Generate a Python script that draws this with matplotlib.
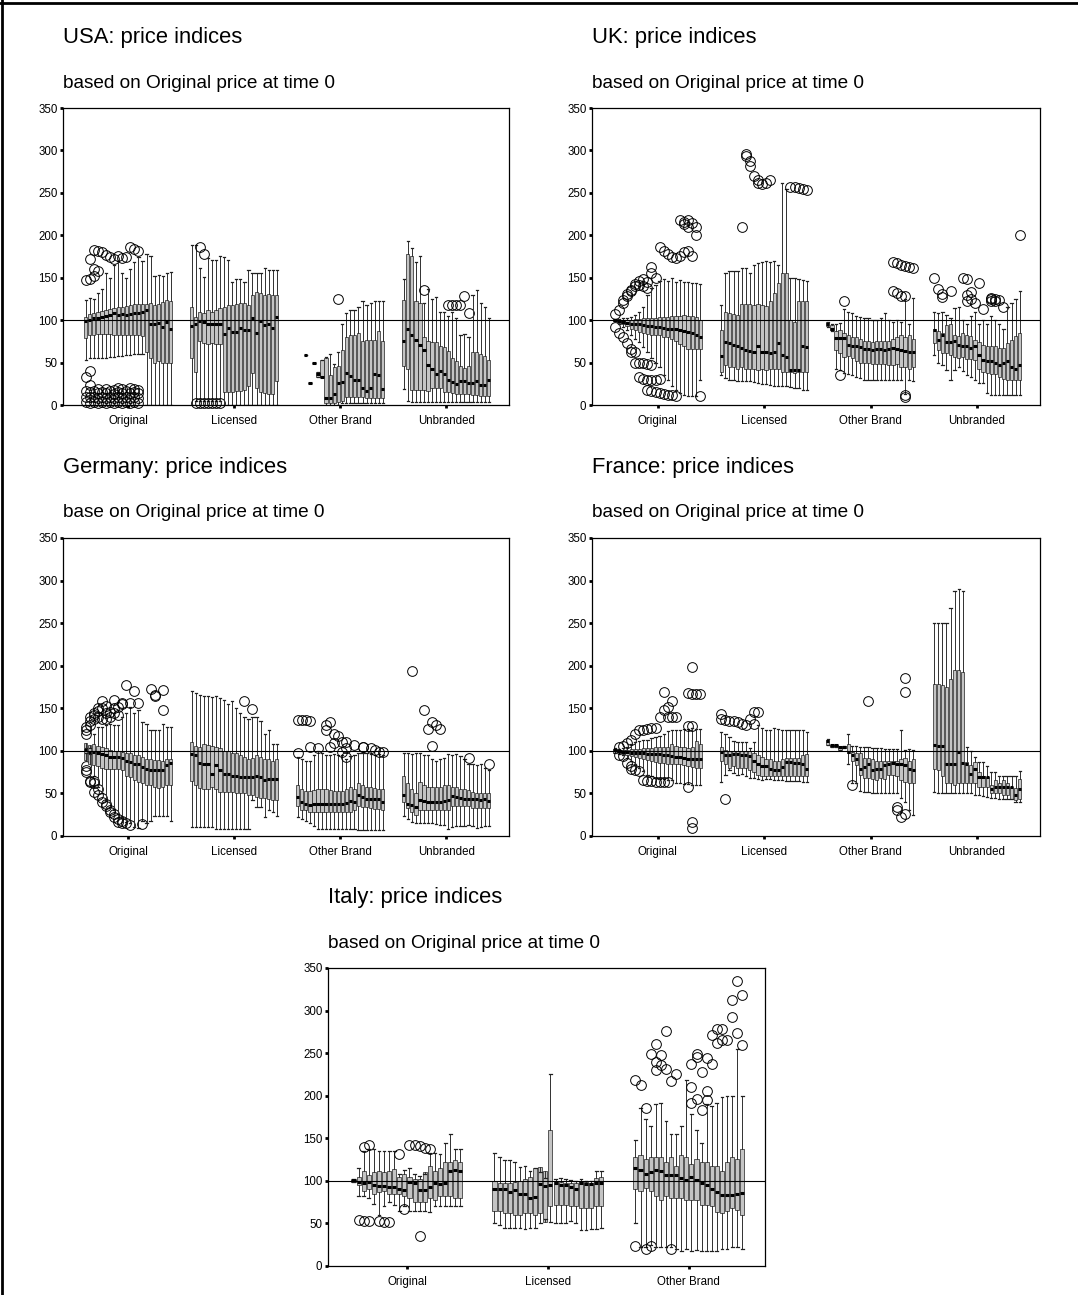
import matplotlib.pyplot as plt
import matplotlib.lines as mlines

plt.rcParams['font.family'] = ['Liberation Sans', 'DejaVu Sans']

W, H = 1078, 1295
cats4 = ['Original', 'Licensed', 'Other Brand', 'Unbranded']
cats3 = ['Original', 'Licensed', 'Other Brand']
yticks = [0, 50, 100, 150, 200, 250, 300, 350]

# ---- USA ----
usa_med = [
    [99, 100, 102, 103, 104, 105, 106, 108, 106, 107, 106, 107, 108, 109, 110, 112, 95, 96, 97, 92, 98, 90],
    [93, 95, 99, 98, 96, 95, 96, 96, 84, 91, 86, 86, 91, 88, 88, 102, 85, 99, 94, 95, 91, 104],
    [None, None, 59, 26, 50, 36, 33, 8, 8, 13, 26, 27, 38, 34, 29, 30, 20, 17, 20, 37, 35, 19],
    [76, 89, 83, 77, 71, 65, 47, 42, 37, 40, 37, 30, 27, 25, 28, 28, 26, 26, 28, 24, 24, 29],
]
usa_q3 = [
    [104, 107, 108, 110, 111, 112, 113, 114, 115, 116, 117, 118, 119, 119, 119, 119, 120, 118, 119, 121, 124, 123],
    [116, 104, 110, 108, 112, 110, 112, 114, 116, 118, 118, 119, 120, 120, 118, 130, 133, 132, 130, 131, 130, 130],
    [None, None, 59, 26, 50, 39, 53, 55, 35, 45, 46, 65, 80, 82, 83, 85, 75, 77, 77, 77, 87, 76],
    [124, 178, 176, 122, 120, 80, 75, 74, 74, 70, 68, 64, 55, 52, 46, 44, 46, 63, 62, 60, 58, 53],
]
usa_q1 = [
    [79, 82, 83, 84, 84, 84, 84, 83, 83, 82, 82, 82, 82, 82, 81, 63, 55, 50, 52, 50, 50, 50],
    [55, 39, 75, 73, 72, 73, 72, 72, 15, 15, 15, 16, 16, 18, 22, 38, 20, 15, 14, 13, 13, 28],
    [None, None, 59, 26, 50, 33, 33, 2, 2, 2, 3, 5, 10, 10, 9, 10, 10, 8, 8, 8, 8, 8],
    [46, 43, 18, 18, 18, 18, 17, 20, 20, 20, 15, 15, 14, 13, 13, 13, 13, 12, 12, 11, 11, 11],
]
usa_hi = [
    [124, 126, 125, 132, 137, 155, 150, 165, 170, 155, 150, 160, 168, 175, 170, 178, 176, 152, 153, 152, 155, 157],
    [189, 189, 161, 151, 173, 171, 171, 176, 175, 171, 145, 149, 149, 145, 159, 155, 155, 155, 161, 159, 159, 159],
    [None, None, 59, 26, 50, 39, 53, 56, 60, 48, 62, 95, 108, 112, 112, 115, 123, 118, 120, 122, 122, 123],
    [148, 193, 185, 168, 176, 120, 137, 125, 127, 110, 110, 105, 110, 103, 82, 84, 80, 130, 135, 120, 115, 102],
]
usa_lo = [
    [53, 55, 55, 55, 55, 55, 56, 57, 58, 58, 59, 59, 60, 60, 60, 0, 0, 0, 0, 0, 0, 0],
    [0, 5, 5, 5, 5, 5, 5, 5, 0, 0, 0, 0, 0, 0, 0, 0, 0, 0, 0, 0, 0, 0],
    [None, None, 59, 26, 50, 33, 33, 0, 0, 0, 0, 2, 2, 2, 2, 2, 2, 2, 2, 2, 2, 2],
    [19, 5, 3, 3, 3, 3, 3, 3, 3, 3, 3, 3, 3, 3, 3, 3, 3, 3, 3, 3, 3, 3],
]
usa_fl = [
    {0: [147, 33, 4, 10, 16], 1: [172, 148, 40, 23, 2, 9, 15], 2: [183, 152, 160, 3, 10, 17],
     3: [182, 158, 2, 8, 14, 19], 4: [180, 3, 9, 15], 5: [177, 2, 8, 14, 19], 6: [175, 3, 10, 16],
     7: [172, 2, 8, 13, 18], 8: [176, 3, 9, 15, 20], 9: [173, 2, 8, 14, 19], 10: [175, 3, 10, 16],
     11: [186, 2, 8, 14, 20], 12: [184, 3, 9, 15, 19], 13: [182, 2, 8, 14, 18]},
    {1: [2], 2: [186, 2], 3: [178, 2], 4: [2], 5: [2], 6: [2], 7: [2]},
    {10: [125]},
    {5: [136], 11: [118], 12: [118], 13: [118], 14: [118], 15: [128], 16: [109]},
]

# ---- UK ----
uk_med = [
    [100, 99, 98, 97, 96, 96, 95, 94, 93, 93, 92, 92, 91, 90, 89, 89, 88, 87, 86, 85, 83, 80],
    [58, 74, 73, 71, 69, 67, 65, 64, 63, 69, 63, 63, 61, 63, 73, 59, 57, 41, 41, 41, 69, 68],
    [96, 90, 79, 79, 79, 71, 70, 69, 68, 66, 66, 65, 66, 66, 65, 66, 67, 66, 65, 64, 63, 62],
    [88, 77, 83, 74, 74, 75, 71, 69, 69, 67, 69, 59, 53, 52, 52, 50, 47, 49, 52, 45, 43, 47],
]
uk_q3 = [
    [101, 100, 100, 100, 100, 101, 101, 102, 102, 103, 103, 104, 104, 104, 105, 105, 105, 106, 105, 105, 104, 100],
    [88, 110, 109, 107, 106, 119, 119, 119, 118, 119, 118, 117, 122, 132, 144, 155, 155, 100, 98, 123, 123, 122],
    [98, 94, 87, 88, 85, 82, 80, 80, 78, 76, 76, 74, 75, 76, 75, 75, 78, 80, 82, 80, 82, 78],
    [90, 87, 85, 94, 96, 83, 81, 85, 83, 81, 77, 74, 71, 69, 69, 69, 67, 67, 73, 77, 81, 85],
]
uk_q1 = [
    [99, 97, 95, 93, 90, 88, 86, 85, 84, 83, 82, 82, 80, 80, 78, 76, 72, 70, 66, 66, 66, 66],
    [39, 47, 45, 45, 43, 45, 43, 43, 43, 41, 43, 41, 43, 43, 43, 39, 39, 39, 38, 39, 39, 39],
    [93, 88, 65, 61, 57, 58, 55, 52, 50, 50, 50, 48, 48, 48, 48, 47, 47, 48, 45, 45, 43, 45],
    [73, 65, 61, 61, 59, 57, 55, 57, 54, 54, 53, 43, 39, 38, 37, 37, 33, 31, 30, 30, 30, 30],
]
uk_hi = [
    [101, 101, 102, 103, 104, 106, 110, 115, 130, 138, 142, 146, 148, 146, 150, 145, 147, 145, 145, 144, 144, 143],
    [118, 155, 158, 158, 158, 162, 161, 156, 165, 167, 168, 170, 168, 170, 165, 262, 255, 150, 150, 148, 147, 146],
    [98, 96, 96, 97, 113, 110, 108, 105, 104, 103, 102, 100, 100, 102, 108, 100, 98, 100, 98, 125, 95, 126],
    [110, 108, 110, 106, 102, 114, 116, 100, 95, 105, 110, 95, 100, 95, 105, 100, 95, 90, 115, 120, 125, 134],
]
uk_lo = [
    [99, 95, 92, 88, 83, 78, 74, 68, 62, 55, 50, 45, 35, 30, 22, 18, 14, 12, 11, 11, 11, 29],
    [35, 32, 30, 30, 28, 28, 28, 28, 27, 26, 25, 25, 24, 22, 22, 22, 22, 21, 20, 20, 18, 18],
    [92, 87, 43, 41, 38, 37, 35, 33, 32, 30, 30, 30, 30, 30, 30, 30, 30, 30, 30, 13, 30, 28],
    [59, 49, 47, 41, 29, 41, 45, 40, 35, 33, 30, 26, 26, 14, 12, 12, 12, 12, 12, 12, 12, 12],
]
uk_fl = [
    {0: [107, 92], 1: [112, 85], 2: [120, 124, 80], 3: [128, 131, 73], 4: [134, 136, 66, 62],
     5: [140, 143, 62, 50], 6: [146, 141, 50, 33], 7: [148, 140, 49, 31], 8: [145, 138, 48, 30, 18],
     9: [163, 155, 47, 30, 16], 10: [150, 30, 15], 11: [186, 31, 14], 12: [182, 13], 13: [178, 12],
     14: [175, 12], 15: [173, 11], 16: [176, 218], 17: [180, 216, 213], 18: [182, 218, 210],
     19: [176, 214], 20: [210, 200], 21: [11]},
    {5: [210], 6: [296, 293], 7: [288, 282], 8: [270], 9: [265, 262], 10: [261], 11: [262], 12: [265],
     17: [257], 18: [257], 19: [256], 20: [255], 21: [253]},
    {3: [35], 4: [123], 16: [169, 134], 17: [167, 132], 18: [165, 129], 19: [164, 128, 12, 10],
     20: [163], 21: [162]},
    {0: [150], 1: [137], 2: [131, 127], 4: [134], 7: [150], 8: [148, 130, 122], 9: [133, 125],
     10: [120], 11: [144], 12: [113], 14: [123, 125, 126], 15: [123, 125], 16: [124], 17: [115], 21: [200]},
]

# ---- Germany ----
ger_med = [
    [101, 99, 99, 98, 96, 95, 93, 93, 93, 92, 88, 87, 85, 85, 81, 79, 78, 77, 77, 77, 83, 86],
    [96, 95, 86, 84, 84, 73, 83, 77, 73, 73, 71, 70, 69, 69, 69, 69, 71, 69, 66, 67, 67, 67],
    [46, 40, 38, 36, 38, 37, 38, 38, 37, 38, 37, 38, 39, 41, 40, 48, 46, 44, 44, 43, 43, 40],
    [48, 38, 36, 34, 42, 41, 40, 40, 40, 40, 41, 42, 47, 46, 45, 44, 44, 44, 43, 42, 43, 41],
]
ger_q3 = [
    [109, 107, 108, 106, 105, 103, 101, 100, 100, 99, 97, 97, 95, 95, 93, 91, 91, 89, 89, 88, 91, 91],
    [110, 106, 104, 108, 107, 106, 104, 103, 100, 100, 98, 97, 95, 93, 90, 92, 95, 93, 91, 90, 88, 90],
    [60, 55, 53, 53, 54, 55, 55, 55, 54, 53, 53, 53, 55, 58, 55, 62, 60, 58, 57, 56, 55, 55],
    [70, 62, 55, 50, 64, 60, 57, 57, 57, 58, 60, 60, 58, 58, 55, 55, 54, 52, 50, 50, 50, 50],
]
ger_q1 = [
    [89, 85, 83, 82, 80, 79, 79, 79, 79, 77, 71, 69, 66, 64, 62, 60, 60, 58, 56, 58, 60, 60],
    [65, 60, 56, 55, 55, 58, 55, 52, 52, 52, 52, 50, 50, 50, 48, 48, 46, 45, 45, 43, 42, 42],
    [35, 30, 30, 28, 28, 28, 28, 28, 28, 28, 28, 28, 28, 28, 30, 35, 34, 34, 33, 32, 32, 30],
    [40, 33, 28, 25, 30, 30, 30, 30, 30, 30, 30, 30, 35, 35, 35, 35, 35, 33, 33, 33, 33, 33],
]
ger_hi = [
    [103, 103, 120, 128, 128, 130, 132, 130, 130, 140, 144, 152, 144, 148, 134, 132, 124, 124, 124, 132, 128, 128],
    [170, 168, 166, 165, 165, 163, 165, 162, 160, 155, 158, 150, 145, 140, 138, 140, 140, 135, 120, 125, 108, 108],
    [93, 90, 88, 88, 95, 100, 98, 95, 95, 96, 95, 95, 90, 94, 95, 97, 98, 97, 96, 95, 96, 95],
    [97, 97, 96, 97, 97, 95, 95, 90, 88, 90, 92, 96, 95, 96, 94, 90, 85, 85, 83, 84, 80, 78],
]
ger_lo = [
    [98, 96, 71, 58, 50, 42, 34, 30, 26, 22, 16, 15, 11, 9, 18, 15, 18, 24, 24, 24, 24, 18],
    [10, 10, 10, 10, 10, 10, 8, 8, 8, 8, 8, 8, 8, 8, 8, 42, 34, 34, 22, 30, 28, 24],
    [22, 20, 18, 15, 12, 8, 8, 8, 8, 8, 8, 8, 8, 8, 8, 7, 7, 7, 7, 7, 7, 7],
    [24, 20, 16, 15, 15, 15, 15, 15, 14, 13, 13, 8, 10, 12, 12, 12, 13, 12, 9, 10, 12, 12],
]
ger_fl = [
    {0: [120, 128, 125, 82, 75, 78], 1: [135, 140, 130, 63, 65], 2: [138, 142, 145, 52, 62, 65],
     3: [147, 150, 140, 48, 55], 4: [150, 158, 137, 45, 40], 5: [153, 145, 138, 38, 35],
     6: [146, 140, 30, 28], 7: [160, 150, 145, 22, 26], 8: [152, 142, 20, 17], 9: [156, 155, 15, 18],
     10: [177, 15], 11: [156, 13], 12: [170], 13: [156], 14: [14], 16: [173], 17: [164, 166],
     19: [171, 148]},
    {13: [158], 15: [149]},
    {0: [97, 136], 1: [136], 2: [136], 3: [135, 105], 5: [103], 7: [130, 124], 8: [134, 105],
     9: [120, 109], 10: [118], 11: [110, 99], 12: [110, 103, 93], 14: [107], 16: [105, 105],
     18: [103], 19: [101], 20: [99], 21: [99]},
    {2: [194], 5: [148], 6: [126], 7: [134, 106], 8: [130], 9: [126], 16: [92], 21: [85]},
]

# ---- France ----
fra_med = [
    [101, 100, 99, 99, 98, 98, 97, 97, 96, 96, 96, 96, 95, 95, 94, 93, 93, 92, 91, 91, 90, 90],
    [99, 95, 95, 96, 96, 95, 95, 94, 88, 85, 82, 82, 79, 78, 77, 81, 87, 87, 86, 86, 84, 79],
    [111, 107, 107, 105, 105, 99, 95, 91, 79, 81, 85, 77, 79, 79, 83, 85, 86, 85, 84, 83, 79, 77],
    [107, 106, 106, 85, 85, 84, 99, 86, 85, 73, 79, 69, 69, 69, 55, 58, 58, 58, 57, 57, 48, 55],
]
fra_q3 = [
    [102, 101, 101, 101, 102, 102, 102, 103, 103, 103, 104, 104, 104, 105, 108, 106, 105, 104, 103, 104, 112, 108],
    [105, 101, 100, 100, 100, 100, 100, 100, 98, 95, 93, 90, 90, 88, 88, 90, 92, 92, 92, 92, 95, 96],
    [113, 107, 107, 105, 106, 108, 99, 97, 97, 92, 92, 90, 88, 88, 88, 88, 88, 88, 90, 92, 88, 90],
    [179, 179, 177, 175, 184, 195, 195, 193, 87, 83, 87, 75, 70, 69, 60, 66, 62, 66, 62, 58, 56, 67],
]
fra_q1 = [
    [98, 97, 96, 95, 94, 93, 92, 90, 89, 88, 87, 86, 86, 85, 85, 84, 84, 83, 82, 81, 80, 80],
    [88, 85, 80, 82, 80, 80, 80, 78, 75, 72, 70, 70, 70, 70, 70, 70, 70, 70, 70, 70, 70, 70],
    [107, 104, 104, 101, 103, 98, 88, 83, 72, 68, 68, 67, 66, 68, 67, 72, 72, 70, 66, 64, 62, 62],
    [79, 77, 71, 62, 62, 60, 62, 62, 62, 62, 62, 58, 58, 58, 50, 50, 50, 48, 48, 44, 42, 44],
]
fra_hi = [
    [103, 102, 103, 105, 108, 110, 112, 113, 113, 115, 116, 118, 120, 123, 124, 125, 125, 126, 126, 127, 126, 126],
    [122, 120, 116, 112, 110, 110, 110, 103, 110, 130, 127, 125, 125, 127, 126, 125, 125, 125, 125, 125, 125, 122],
    [114, 107, 107, 105, 106, 120, 106, 106, 105, 104, 104, 103, 103, 103, 102, 102, 102, 102, 125, 101, 102, 101],
    [250, 250, 250, 250, 268, 288, 290, 288, 105, 100, 93, 87, 87, 82, 75, 75, 70, 70, 70, 70, 70, 76],
]
fra_lo = [
    [97, 96, 95, 92, 88, 85, 80, 76, 72, 70, 68, 67, 67, 66, 66, 62, 62, 61, 61, 60, 60, 60],
    [63, 72, 78, 74, 72, 73, 70, 68, 68, 67, 66, 67, 67, 66, 66, 66, 65, 65, 65, 65, 64, 63],
    [107, 104, 104, 101, 103, 85, 62, 62, 53, 52, 52, 51, 51, 51, 51, 51, 51, 51, 45, 40, 30, 25],
    [52, 50, 50, 50, 50, 50, 50, 50, 50, 50, 48, 48, 47, 46, 45, 45, 44, 44, 44, 43, 40, 40],
]
fra_fl = [
    {1: [104, 95], 2: [106, 94], 3: [109, 86], 4: [113, 82, 79], 5: [120, 77], 6: [124, 76],
     7: [125, 66], 8: [126, 65], 9: [127, 65], 10: [127, 64], 11: [140, 64], 12: [169, 148, 64],
     13: [152, 140, 64], 14: [158, 140], 15: [140], 18: [168, 129, 58], 19: [198, 167, 129, 16, 9],
     20: [167], 21: [167]},
    {0: [143, 138], 1: [136, 44], 2: [135], 3: [135], 4: [134], 5: [132], 6: [130], 7: [138],
     8: [146, 131], 9: [146]},
    {6: [60], 10: [158], 17: [34, 31], 18: [22], 19: [185, 169, 26]},
    {},
]

# ---- Italy ----
ita_med = [
    [101, 99, 97, 99, 95, 94, 94, 93, 93, 91, 89, 99, 97, 89, 89, 93, 98, 96, 97, 111, 113, 111],
    [91, 90, 90, 87, 89, 85, 84, 80, 81, 96, 94, 95, 97, 95, 95, 93, 91, 97, 96, 96, 97, 98],
    [115, 113, 108, 110, 113, 112, 107, 107, 107, 103, 101, 105, 101, 97, 95, 90, 87, 83, 83, 83, 85, 86],
]
ita_q3 = [
    [101, 105, 112, 107, 110, 112, 110, 112, 114, 105, 108, 105, 102, 102, 110, 118, 112, 115, 122, 122, 125, 122],
    [100, 98, 97, 98, 99, 100, 102, 104, 115, 116, 112, 160, 100, 99, 98, 97, 97, 99, 99, 98, 103, 104],
    [128, 130, 126, 128, 128, 128, 122, 128, 118, 130, 128, 120, 126, 122, 122, 118, 118, 112, 122, 128, 126, 138],
]
ita_q1 = [
    [99, 95, 88, 90, 85, 87, 88, 85, 84, 85, 82, 80, 75, 75, 75, 80, 78, 82, 82, 82, 80, 80],
    [65, 65, 62, 62, 60, 60, 62, 62, 60, 62, 52, 70, 72, 72, 72, 70, 70, 68, 68, 68, 70, 70],
    [90, 88, 92, 88, 82, 78, 82, 80, 80, 80, 77, 78, 77, 72, 72, 70, 64, 62, 65, 68, 66, 60],
]
ita_hi = [
    [102, 115, 135, 137, 137, 135, 135, 135, 135, 108, 113, 115, 108, 106, 108, 133, 133, 132, 145, 155, 137, 137],
    [133, 128, 125, 125, 122, 116, 118, 112, 115, 110, 103, 225, 102, 103, 102, 101, 100, 102, 100, 100, 112, 112],
    [148, 185, 173, 165, 190, 192, 170, 155, 155, 165, 218, 178, 160, 145, 190, 188, 192, 198, 200, 200, 255, 200],
]
ita_lo = [
    [99, 82, 82, 80, 73, 60, 70, 75, 72, 65, 70, 65, 65, 65, 65, 63, 70, 70, 70, 70, 70, 70],
    [50, 48, 45, 45, 45, 45, 44, 45, 45, 50, 55, 52, 50, 50, 50, 53, 50, 42, 42, 44, 44, 45],
    [50, 22, 22, 25, 22, 22, 22, 22, 20, 18, 20, 18, 19, 18, 18, 18, 18, 20, 20, 22, 22, 20],
]
ita_fl = [
    {1: [54], 2: [140, 53], 3: [142, 53], 5: [53], 6: [52], 7: [52], 9: [132], 10: [67], 11: [142],
     12: [142], 13: [141, 35], 14: [139], 15: [138]},
    {},
    {0: [219, 23], 1: [213], 2: [186, 20], 3: [249, 23], 4: [230, 261, 240], 5: [248, 236],
     6: [231, 276], 7: [217, 20], 8: [226], 11: [210, 237, 192], 12: [249, 196, 245], 13: [228, 183],
     14: [205, 195, 244], 15: [237, 271], 16: [278, 262], 17: [278, 265], 18: [266], 19: [293, 313],
     20: [274, 335], 21: [318, 259]},
]

fig = plt.figure(figsize=(W / 100, H / 100), dpi=100)


def px_rect(l, t, r, b):
    return [l / W, 1 - b / H, (r - l) / W, (b - t) / H]


def panel(box, title, sub, cats, lo, q1, med, q3, hi, fl, xlim, slot):
    l, t, r, b = box
    ax = fig.add_axes(px_rect(l, t, r, b))
    fig.text(l / W, 1 - (t - 70) / H, title, fontsize=15.8, va='center')
    fig.text(l / W, 1 - (t - 25) / H, sub, fontsize=13.7, va='center')
    stats, pos = [], []
    for c in range(len(cats)):
        for j in range(len(med[c])):
            if med[c][j] is None:
                continue
            stats.append(dict(whislo=lo[c][j], q1=q1[c][j], med=med[c][j], q3=q3[c][j],
                              whishi=hi[c][j], fliers=fl[c].get(j, [])))
            pos.append(c + (j - 10.5) * slot)
    art = ax.bxp(stats, positions=pos, widths=slot * 0.8, capwidths=slot * 0.55,
                 patch_artist=True, manage_ticks=False,
                 boxprops=dict(facecolor='#c4c4c4', edgecolor='#202020', linewidth=0.5),
                 medianprops=dict(color='k', linewidth=2.2, solid_capstyle='butt'),
                 whiskerprops=dict(color='#303030', linewidth=0.7),
                 capprops=dict(color='#202020', linewidth=0.9),
                 flierprops=dict(marker='o', markerfacecolor='none', markeredgecolor='k',
                                 markersize=7, markeredgewidth=0.7))
    for f in art['fliers']:
        f.set_clip_on(False)
    ax.axhline(100, color='k', linewidth=0.8)
    ax.set_ylim(0, 350)
    ax.set_xlim(*xlim)
    ax.set_yticks(yticks)
    ax.set_xticks(range(len(cats)))
    ax.set_xticklabels(cats)
    ax.tick_params(axis='both', direction='out', length=2, width=2, labelsize=8.3, pad=2)
    ax.tick_params(axis='x', pad=5)
    for s in ax.spines.values():
        s.set_linewidth(0.9)
    return ax


xl4 = (-0.616, 3.592)
panel((63, 108, 509, 405), 'USA: price indices', 'based on Original price at time 0', cats4,
      usa_lo, usa_q1, usa_med, usa_q3, usa_hi, usa_fl, xl4, 0.0382)
panel((592, 108, 1040, 405), 'UK: price indices', 'based on Original price at time 0', cats4,
      uk_lo, uk_q1, uk_med, uk_q3, uk_hi, uk_fl, xl4, 0.0382)
panel((63, 538, 509, 836), 'Germany: price indices', 'base on Original price at time 0', cats4,
      ger_lo, ger_q1, ger_med, ger_q3, ger_hi, ger_fl, xl4, 0.0382)
panel((592, 538, 1040, 836), 'France: price indices', 'based on Original price at time 0', cats4,
      fra_lo, fra_q1, fra_med, fra_q3, fra_hi, fra_fl, xl4, 0.0382)
panel((328, 968, 765, 1266), 'Italy: price indices', 'based on Original price at time 0', cats3,
      ita_lo, ita_q1, ita_med, ita_q3, ita_hi, ita_fl, (-0.56, 2.54), 0.0361)

# page frame
fig.add_artist(mlines.Line2D([0.002, 0.002], [0, 1], transform=fig.transFigure, color='k', lw=2))
fig.add_artist(mlines.Line2D([0, 1], [0.998, 0.998], transform=fig.transFigure, color='k', lw=2))

fig.savefig('out.png', dpi=100)
